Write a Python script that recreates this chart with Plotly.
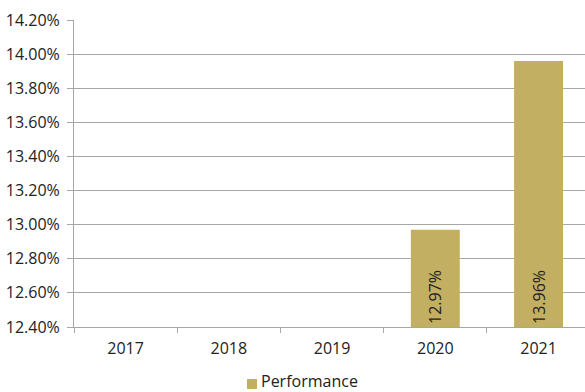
import plotly.graph_objects as go

categories = ["2017", "2018", "2019", "2020", "2021"]
performance = [None, None, None, 12.97, 13.96]
axis_min = 12.40
axis_max = 14.20
tick_vals = [12.40, 12.60, 12.80, 13.00, 13.20, 13.40, 13.60, 13.80, 14.00, 14.20]
series_name = "Performance"

bar_color = "#C3AF62"
grid_color = "#A6A6A6"
text_color = "#222222"
font_family = "Open Sans, Noto Sans, sans-serif"
fs = 16

W, H = 585, 392
L, R, T, B = 74, 0, 20, 65
pw, ph = W - L - R, H - T - B

def px_x(p):
    return (p - L) / pw

def px_y(p):
    return (H - B - p) / ph

heights = [None if v is None else v - axis_min for v in performance]
labels = ["" if v is None else f"{v:.2f}%" for v in performance]

fig = go.Figure()
fig.add_trace(go.Bar(
    x=categories,
    y=heights,
    base=axis_min,
    name=series_name,
    marker=dict(color=bar_color, line=dict(width=0)),
    text=labels,
    textposition="inside",
    insidetextanchor="start",
    textangle=-90,
    textfont=dict(color=text_color, size=fs, family=font_family),
    showlegend=False,
))

# legend (square swatch + label)
fig.add_shape(type="rect", xref="paper", yref="paper",
              x0=px_x(247), x1=px_x(257), y0=px_y(389), y1=px_y(379),
              fillcolor=bar_color, line=dict(width=0))
fig.add_annotation(xref="paper", yref="paper", x=px_x(260), y=px_y(393),
                   xanchor="left", yanchor="bottom", showarrow=False, borderpad=0,
                   text=series_name, font=dict(size=fs, color=text_color, family=font_family))

fig.update_layout(
    width=W, height=H,
    margin=dict(l=L, r=R, t=T, b=B, autoexpand=False),
    paper_bgcolor="white", plot_bgcolor="white",
    bargap=0.526,
    font=dict(family=font_family, size=fs, color=text_color),
    showlegend=False,
)
fig.update_yaxes(
    range=[axis_min, axis_max], tickvals=tick_vals,
    ticktext=[f"{v:.2f}%" for v in tick_vals],
    showgrid=True, gridcolor=grid_color, gridwidth=1,
    showline=True, linecolor=grid_color, linewidth=1,
    ticks="outside", ticklen=6, tickcolor=grid_color,
    ticklabelstandoff=4,
    zeroline=False, tickfont=dict(size=fs, color=text_color),
)
fig.update_xaxes(
    range=[-0.5, 4.45],
    showline=True, linecolor=grid_color, linewidth=1,
    ticks="outside", tickson="boundaries", ticklen=5, tickcolor=grid_color,
    ticklabelstandoff=7,
    showgrid=False, tickfont=dict(size=fs, color=text_color),
)

fig.write_html("out.html")
